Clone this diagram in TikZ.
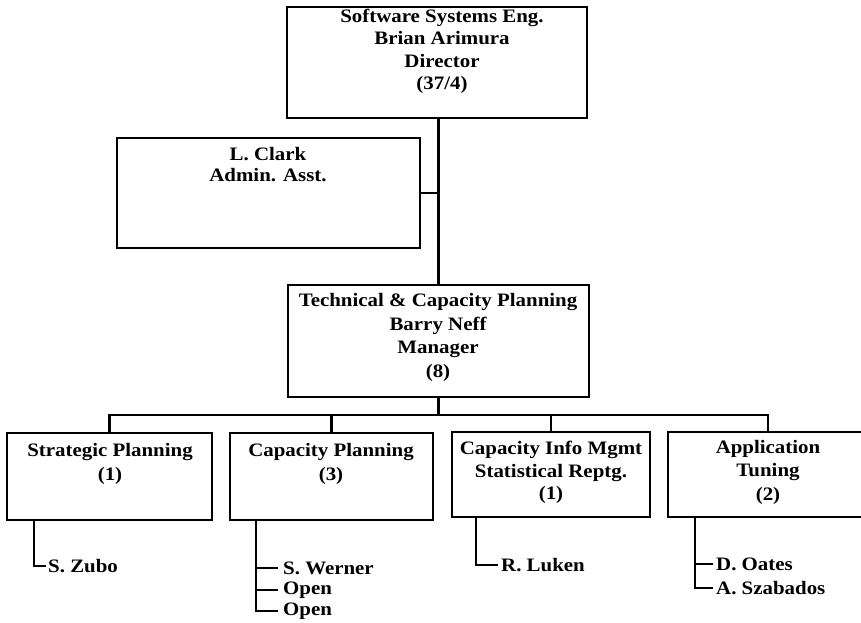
\documentclass[tikz,border=0pt]{standalone}
\usepackage{fontspec}
\setmainfont[FakeStretch=1.1]{Liberation Serif}
\begin{document}
\begin{tikzpicture}[x=1pt,y=-1pt,
  box/.style={draw,line width=2.2pt,inner sep=0pt},
  txt/.style={font=\bfseries\fontsize{19}{23}\selectfont,align=center,inner sep=0pt,anchor=north},
  nm/.style={font=\bfseries\fontsize{19}{23}\selectfont,inner sep=0pt,anchor=west},
  conn/.style={line width=2.2pt}]
\useasboundingbox (0,0) rectangle (861,622);
\clip (0,0) rectangle (861,622);
% boxes
\node[box,minimum width=300pt,minimum height=111pt] (top) at (437,62.5) {};
\node[box,minimum width=303pt,minimum height=110pt] (admin) at (268.5,193) {};
\node[box,minimum width=301pt,minimum height=112pt] (mgr) at (438.5,341) {};
\node[box,minimum width=205pt,minimum height=87pt] (s1) at (109.5,476.5) {};
\node[box,minimum width=203pt,minimum height=87pt] (s2) at (331.5,476.5) {};
\node[box,minimum width=198pt,minimum height=85pt] (s3) at (551,474.5) {};
\node[inner sep=0pt,minimum width=240pt,minimum height=85pt] (s4) at (788,474.5) {};
\draw[conn,line join=miter] (s4.north east) -- (s4.north west) -- (s4.south west) -- (s4.south east);
% texts
\node[txt,font=\bfseries\fontsize{19}{22.3}\selectfont] (ttop) at (442,9) {Software Systems Eng.\\Brian Arimura\\Director\\(37/4)};
\node[txt,font=\bfseries\fontsize{19}{21}\selectfont] (tadmin) at (268,147) {L. Clark\\Admin. Asst.};
\node[txt,font=\bfseries\fontsize{19}{23.7}\selectfont] (tmgr) at (438,293) {Technical \& Capacity Planning\\Barry Neff\\Manager\\(8)};
\node[txt,font=\bfseries\fontsize{19}{24}\selectfont] (ts1) at (110,443) {Strategic Planning\\(1)};
\node[txt,font=\bfseries\fontsize{19}{24}\selectfont] (ts2) at (331,443) {Capacity Planning\\(3)};
\node[txt,font=\bfseries\fontsize{19}{22.5}\selectfont] (ts3) at (551,441) {Capacity Info Mgmt\\Statistical Reptg.\\(1)};
\node[txt,font=\bfseries\fontsize{19}{23.5}\selectfont] (ts4) at (768,440) {Application\\Tuning\\(2)};
% names
\node[nm] (zubo) at (48,566) {S. Zubo};
\node[nm] (werner) at (283,568) {S. Werner};
\node[nm] (open1) at (283,590) {Open};
\node[nm] (open2) at (283,611) {Open};
\node[nm] (luken) at (501,565) {R. Luken};
\node[nm] (oates) at (716,564) {D. Oates};
\node[nm] (szab) at (716,588) {A. Szabados};
% connectors
\coordinate (bus) at (438.5,415);
\coordinate (d4) at ([xshift=100pt]s4.north west);
\draw[conn] (mgr.north) -- (mgr.north |- top.south);
\draw[conn] (admin.east) -- (admin.east -| mgr.north);
\draw[conn] (mgr.south) -- (bus);
\draw[conn] (s1.north) |- (bus) -| (d4);
\draw[conn] (s2.north) -- (s2.north |- bus);
\draw[conn] (s3.north) -- (s3.north |- bus);
\coordinate (a1) at ([xshift=28pt]s1.south west);
\coordinate (a2) at ([xshift=27pt]s2.south west);
\coordinate (a3) at ([xshift=25pt]s3.south west);
\coordinate (a4) at ([xshift=27pt]s4.south west);
\draw[conn] (a1) |- ([xshift=-2pt]zubo.west);
\draw[conn] (a2) |- ([xshift=-5pt]open2.west);
\draw[conn] (a2 |- werner.west) -- ([xshift=-5pt]werner.west);
\draw[conn] (a2 |- open1.west) -- ([xshift=-5pt]open1.west);
\draw[conn] (a3) |- ([xshift=-3pt]luken.west);
\draw[conn] (a4) |- ([xshift=-3pt]szab.west);
\draw[conn] (a4 |- oates.west) -- ([xshift=-3pt]oates.west);
\end{tikzpicture}
\end{document}
